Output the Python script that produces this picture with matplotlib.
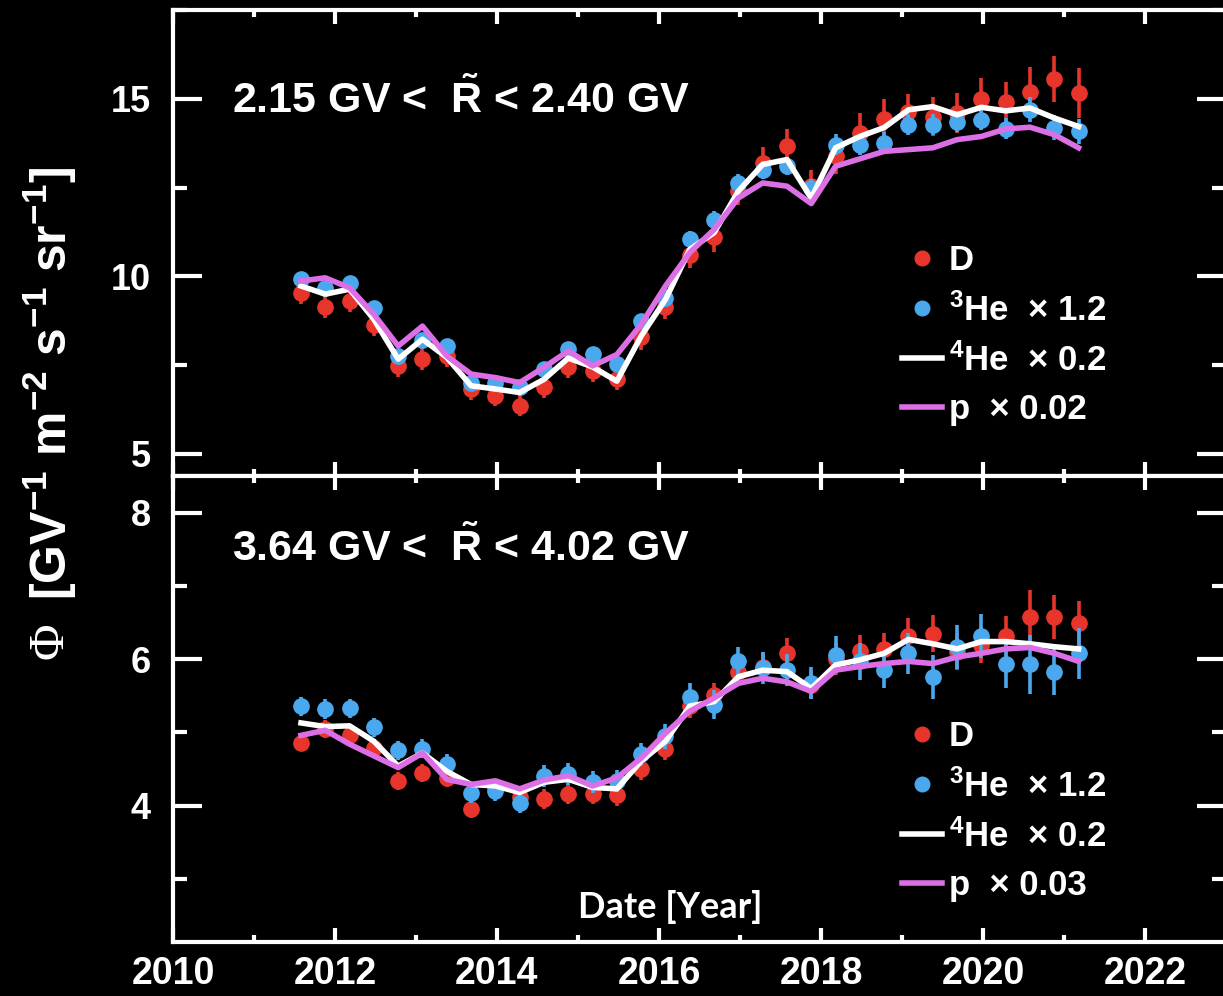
import numpy as np
import matplotlib
matplotlib.use('Agg')
import matplotlib.pyplot as plt
from matplotlib.lines import Line2D
from matplotlib.ticker import MultipleLocator

plt.rcParams['font.family'] = ['Liberation Sans', 'DejaVu Sans']
plt.rcParams['font.weight'] = 'bold'
plt.rcParams['mathtext.fontset'] = 'custom'
plt.rcParams['mathtext.rm'] = 'Liberation Sans:bold'
plt.rcParams['mathtext.it'] = 'Liberation Sans:bold'
plt.rcParams['mathtext.bf'] = 'Liberation Sans:bold'

# time bins (year)
dates = [2011.58, 2011.88, 2012.18, 2012.48, 2012.78, 2013.08, 2013.38, 2013.68,
         2013.98, 2014.28, 2014.58, 2014.88, 2015.18, 2015.48, 2015.78, 2016.08,
         2016.38, 2016.68, 2016.98, 2017.28, 2017.58, 2017.88, 2018.18, 2018.48,
         2018.78, 2019.08, 2019.38, 2019.68, 2019.98, 2020.28, 2020.58, 2020.88,
         2021.18]

# 2.15 - 2.40 GV
d_top = [9.52, 9.14, 9.31, 8.62, 7.48, 7.67, 7.76, 6.83, 6.64, 6.36, 6.88, 7.45,
         7.33, 7.10, 8.29, 9.15, 10.60, 11.10, 12.40, 13.20, 13.66, 12.55, 13.38,
         14.04, 14.44, 14.64, 14.50, 14.60, 14.99, 14.92, 15.20, 15.55, 15.16]
d_top_err = [0.3, 0.3, 0.3, 0.3, 0.3, 0.3, 0.3, 0.3, 0.3, 0.3, 0.3, 0.3, 0.3, 0.3,
             0.35, 0.35, 0.35, 0.4, 0.4, 0.45, 0.5, 0.45, 0.5, 0.55, 0.55, 0.5,
             0.55, 0.55, 0.6, 0.55, 0.7, 0.65, 0.7]
he3_top = [9.92, 9.68, 9.82, 9.12, 7.76, 8.20, 8.04, 7.01, 7.00, 6.88, 7.39, 7.95,
           7.81, 7.53, 8.75, 9.40, 11.04, 11.60, 12.63, 13.00, 13.10, 12.50, 13.71,
           13.71, 13.76, 14.27, 14.27, 14.36, 14.41, 14.16, 14.69, 14.18, 14.08]
he3_top_err = [0.2, 0.2, 0.2, 0.2, 0.2, 0.2, 0.2, 0.2, 0.2, 0.2, 0.2, 0.2, 0.2,
               0.2, 0.2, 0.25, 0.25, 0.25, 0.25, 0.25, 0.25, 0.25, 0.3, 0.3, 0.3,
               0.3, 0.3, 0.3, 0.3, 0.3, 0.35, 0.35, 0.35]
he4_top = [9.73, 9.50, 9.64, 8.79, 7.67, 8.23, 7.72, 6.92, 6.83, 6.73, 7.10, 7.70,
           7.45, 7.05, 8.32, 9.35, 10.76, 11.23, 12.40, 13.15, 13.29, 12.20, 13.62,
           13.94, 14.19, 14.69, 14.78, 14.55, 14.76, 14.66, 14.74, 14.46, 14.22]
p_top = [9.87, 9.96, 9.68, 8.93, 8.04, 8.60, 7.76, 7.25, 7.15, 7.01, 7.44, 7.90,
         7.48, 7.80, 8.65, 9.73, 10.67, 11.32, 12.21, 12.63, 12.54, 12.05, 13.10,
         13.31, 13.52, 13.57, 13.62, 13.85, 13.94, 14.15, 14.20, 13.99, 13.62]

# 3.64 - 4.02 GV
d_bot = [4.86, 5.05, 4.97, 4.79, 4.34, 4.45, 4.38, 3.95, 4.25, 4.12, 4.09, 4.16,
         4.16, 4.14, 4.50, 4.77, 5.36, 5.51, 5.83, 5.90, 6.09, 5.65, 6.00, 6.11,
         6.14, 6.31, 6.35, 6.10, 6.20, 6.31, 6.58, 6.58, 6.49]
d_bot_err = [0.12, 0.12, 0.12, 0.12, 0.12, 0.12, 0.12, 0.12, 0.12, 0.12, 0.14,
             0.14, 0.14, 0.14, 0.15, 0.15, 0.16, 0.17, 0.18, 0.2, 0.2, 0.2, 0.22,
             0.22, 0.22, 0.25, 0.25, 0.25, 0.25, 0.28, 0.36, 0.3, 0.3]
he3_bot = [5.36, 5.32, 5.33, 5.07, 4.76, 4.78, 4.57, 4.18, 4.20, 4.04, 4.40, 4.43,
           4.33, 4.34, 4.70, 4.95, 5.49, 5.38, 5.97, 5.88, 5.85, 5.67, 6.06, 5.97,
           5.85, 6.08, 5.76, 6.17, 6.32, 5.93, 5.93, 5.83, 6.08]
he3_bot_err = [0.13, 0.13, 0.13, 0.13, 0.13, 0.13, 0.13, 0.14, 0.14, 0.14, 0.15,
               0.15, 0.15, 0.15, 0.16, 0.17, 0.18, 0.2, 0.2, 0.22, 0.22, 0.22, 0.25,
               0.25, 0.25, 0.28, 0.3, 0.3, 0.3, 0.32, 0.4, 0.32, 0.35]
he4_bot = [5.13, 5.08, 5.09, 4.88, 4.54, 4.72, 4.47, 4.29, 4.27, 4.18, 4.32, 4.36,
           4.25, 4.23, 4.61, 4.88, 5.36, 5.42, 5.76, 5.85, 5.83, 5.60, 5.92, 5.99,
           6.08, 6.27, 6.21, 6.14, 6.24, 6.24, 6.21, 6.17, 6.14]
p_bot = [4.96, 5.03, 4.84, 4.68, 4.52, 4.72, 4.36, 4.29, 4.34, 4.23, 4.35, 4.41,
         4.27, 4.38, 4.65, 4.99, 5.29, 5.47, 5.67, 5.74, 5.69, 5.56, 5.85, 5.90,
         5.94, 5.97, 5.94, 6.03, 6.08, 6.14, 6.16, 6.08, 5.97]

RED = '#e8352b'
BLUE = '#4aa8ee'
MAG = '#dc6fe6'

fig = plt.figure(figsize=(12.23, 9.96), dpi=100, facecolor='black')
ax1 = fig.add_axes([173 / 1223, 1 - 476 / 996, 1053 / 1223, 466 / 996])
ax2 = fig.add_axes([173 / 1223, 1 - 942 / 996, 1053 / 1223, 466 / 996], sharex=ax1)


def panel(ax, d, de, h3, h3e, h4, p, title, title_y, plabel, ylim, major, minor, leg_y):
    ax.set_facecolor('black')
    ax.errorbar(dates, d, yerr=de, fmt='o', color=RED, ms=11, elinewidth=2.6,
                capsize=0, zorder=2)
    ax.errorbar(dates, h3, yerr=h3e, fmt='o', color=BLUE, ms=11, elinewidth=2.6,
                capsize=0, zorder=3)
    ax.plot(dates, h4, color='white', lw=4, zorder=4)
    ax.plot(dates, p, color=MAG, lw=4, zorder=5)
    ax.set_ylim(*ylim)
    ax.set_xlim(2010, 2023)
    ax.yaxis.set_major_locator(MultipleLocator(major))
    ax.yaxis.set_minor_locator(MultipleLocator(minor))
    ax.xaxis.set_major_locator(MultipleLocator(2))
    ax.xaxis.set_minor_locator(MultipleLocator(1))
    for s in ax.spines.values():
        s.set_color('white')
        s.set_linewidth(3)
    ax.tick_params(axis='both', which='both', direction='in', colors='white',
                   top=True, right=True, width=3)
    ax.tick_params(axis='y', which='major', length=21, labelsize=26, pad=16)
    ax.tick_params(axis='y', which='minor', length=10)
    ax.tick_params(axis='x', which='major', length=10)
    ax.tick_params(axis='x', which='minor', length=5)
    ax.text(0.056, title_y, title, transform=ax.transAxes, color='white',
            fontsize=31, va='center', ha='left')
    handles = [
        Line2D([], [], ls='none', marker='o', ms=10.5, color=RED),
        Line2D([], [], ls='none', marker='o', ms=10.5, color=BLUE),
        Line2D([], [], color='white', lw=4),
        Line2D([], [], color=MAG, lw=4),
    ]
    labels = ['D', '$^{3}$He  \u00d7 1.2', '$^{4}$He  \u00d7 0.2', plabel]
    leg = ax.legend(handles, labels, loc='upper left', bbox_to_anchor=(0.692, leg_y),
                    frameon=False, fontsize=25, handlelength=1.15,
                    handletextpad=0.2, labelspacing=0.45, borderpad=0,
                    borderaxespad=0)
    for t in leg.get_texts():
        t.set_color('white')


panel(ax1, d_top, d_top_err, he3_top, he3_top_err, he4_top, p_top,
      '2.15 GV <  $\\tilde{\\mathrm{R}}$ < 2.40 GV', 0.807, 'p  \u00d7 0.02',
      (4.38, 17.5), 5, 2.5, 0.497)
panel(ax2, d_bot, d_bot_err, he3_bot, he3_bot_err, he4_bot, p_bot,
      '3.64 GV <  $\\tilde{\\mathrm{R}}$ < 4.02 GV', 0.845, 'p  \u00d7 0.03',
      (2.14, 8.5), 2, 1, 0.476)

ax1.tick_params(axis='x', labelbottom=False)
ax2.tick_params(axis='x', which='major', labelsize=27, pad=10)

ax2.text(0.472, 0.075, 'Date [Year]', transform=ax2.transAxes, color='white',
         fontsize=26, ha='center', va='center', family=['Lato', 'DejaVu Sans'])

fig.text(0.041, 0.357, '\u03a6', rotation=90, color='white', fontsize=36,
         ha='center', va='center', family=['Liberation Serif'], weight='normal')
fig.text(0.041, 0.615, '[GV$^{-1}$ m$^{-2}$ s$^{-1}$ sr$^{-1}$]', rotation=90,
         color='white', fontsize=36, ha='center', va='center')

fig.savefig('out.png', dpi=100, facecolor='black')
